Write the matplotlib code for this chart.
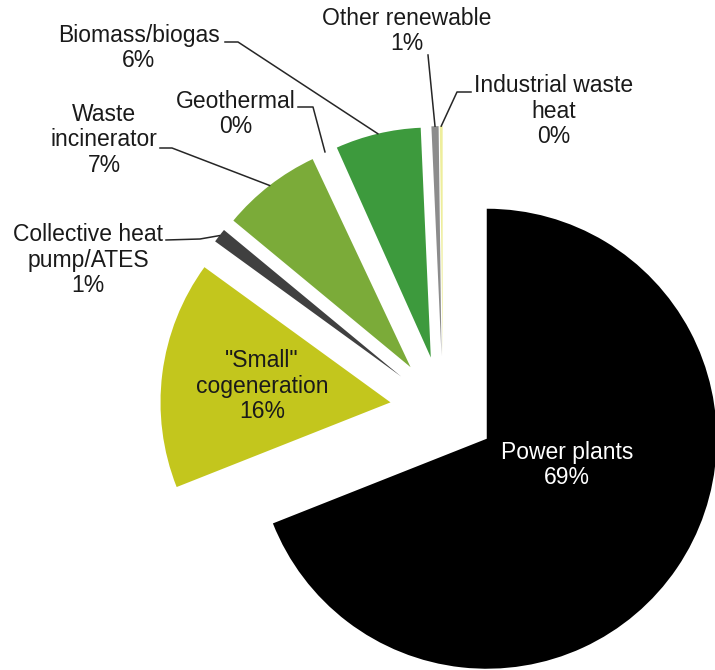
import matplotlib.pyplot as plt
import numpy as np

plt.rcParams['font.family'] = ['Liberation Sans', 'DejaVu Sans']

# heat supply by source, share in %
sources = ["Power plants", '"Small"\ncogeneration', "Collective heat\npump/ATES",
           "Waste\nincinerator", "Geothermal", "Biomass/biogas",
           "Other renewable", "Industrial waste\nheat"]
shares = [69, 16, 1, 7, 0.3, 6, 0.5, 0.2]
colors = ["#000000", "#c3c61d", "#404040", "#7bab39", "#ffffff",
          "#3d9a3d", "#8c8c8c", "#eeee9c"]

# label layout in image pixels (x right, y down)
label_pos = [(567, 465), (262, 386), (88, 260), (104, 140), (236, 114),
             (139, 48), (407, 31), (554, 111)]
line_start = [None, None, (166, 240), (160, 148), (298, 107),
              (225, 42), (428, 55), (471, 92)]
line_knee = [None, None, (200, 239), (172, 148), (313, 107),
             (238, 42), None, (457, 92)]

W, H = 715, 670
CX, CY, R = 443, 409, 230  # pie centre and radius in pixels


def to_data(x, y):
    return (x - CX) / R, (CY - y) / R


fig = plt.figure(figsize=(W / 100, H / 100), dpi=100)
ax = fig.add_axes([0, 0, 1, 1])

wedges, _ = ax.pie(shares, colors=colors, startangle=90, counterclock=False,
                   explode=[0.23] * len(shares), radius=1,
                   wedgeprops=dict(linewidth=0))

ax.set_xlim(to_data(0, 0)[0], to_data(W, 0)[0])
ax.set_ylim(to_data(0, H)[1], to_data(0, 0)[1])
ax.axis('off')

total = sum(shares)
for i, w in enumerate(wedges):
    pct = int(shares[i] / total * 100 + 0.5)
    tx, ty = to_data(*label_pos[i])
    txt_color = "white" if i == 0 else "#1a1a1a"
    ax.text(tx, ty, f"{sources[i]}\n{pct}%", ha="center", va="center",
            fontsize=16.5, color=txt_color, linespacing=1.15)

    if line_start[i] is None:
        continue
    # point on the outer arc, middle of the wedge
    tm = np.deg2rad((w.theta1 + w.theta2) / 2)
    ex = w.center[0] + w.r * np.cos(tm)
    ey = w.center[1] + w.r * np.sin(tm)
    pts = [to_data(*line_start[i])]
    if line_knee[i] is not None:
        pts.append(to_data(*line_knee[i]))
    pts.append((ex, ey))
    xs, ys = zip(*pts)
    ax.plot(xs, ys, color="#262626", lw=1.1)

fig.savefig("out.png", dpi=100)
